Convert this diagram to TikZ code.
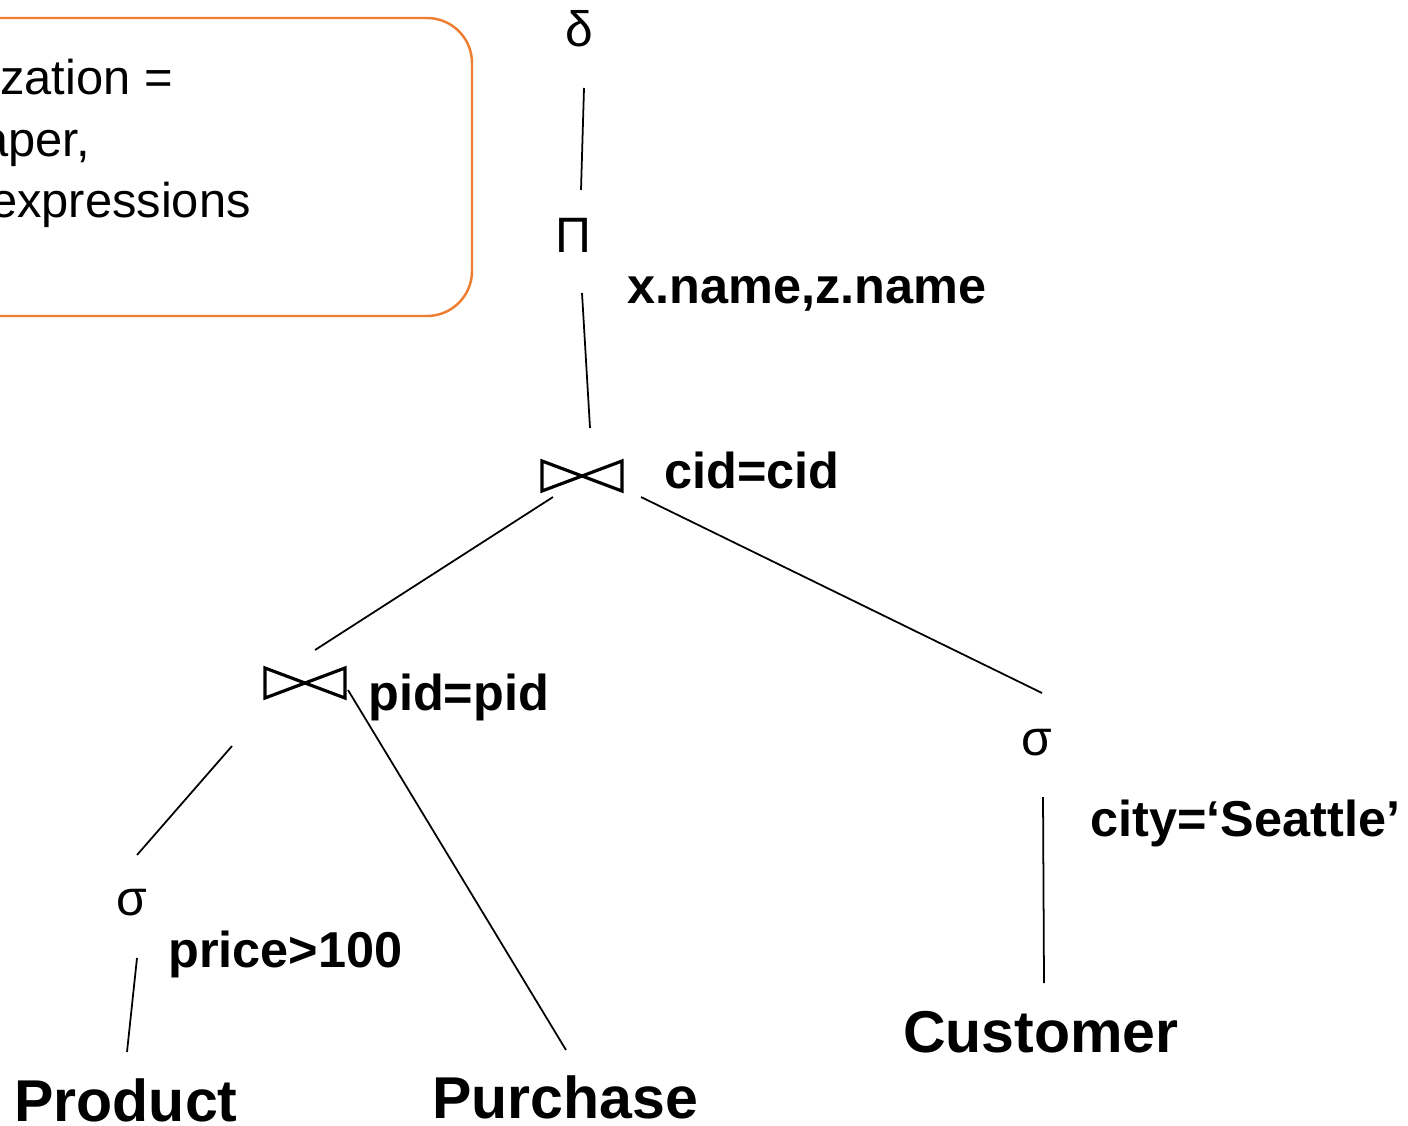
\documentclass[tikz,border=0pt]{standalone}
\usepackage{fontspec}
\setmainfont{Liberation Sans}
\usepackage{xcolor}
\usetikzlibrary{positioning,calc}
\definecolor{noteorange}{HTML}{ED7D31}

\begin{document}
\begin{tikzpicture}[x=0.02cm, y=-0.02cm,
    op/.style={font=\fontsize{28.3}{34}\selectfont, inner sep=0pt, anchor=base},
    cond/.style={font=\fontsize{28.7}{34}\selectfont\bfseries, inner sep=0pt, anchor=base west},
    rel/.style={font=\fontsize{33.6}{40}\selectfont\bfseries, inner sep=0pt, anchor=base},
    note/.style={font=\fontsize{27.8}{33}\selectfont, inner sep=0pt, anchor=base east},
    joinbox/.style={minimum width=1.6cm, minimum height=0.6cm, inner sep=0pt, outer sep=0pt},
    bowtie/.style={line width=1.8pt, line join=miter},
    link/.style={line width=1pt}]
    \useasboundingbox (0,0) rectangle (1408,1125);

    % Note box, cut off at the left edge
    \begin{scope}
        \clip (0,0) rectangle (1408,1125);
        \draw[noteorange, line width=1.4pt, rounded corners=0.9cm] (-200,18) rectangle (472,316);
        \node[note] (note1) at (173,95) {zation =};
        \node[note] (note2) at (90,156) {aper,};
        \node[note] (note3) at (251,217) {expressions};
    \end{scope}

    % Operators
    \node[op] (delta) at (579,47) {δ};
    \node[op] (pi) at (573,252) {Π};
    \node[cond] (pilbl) at (627,303) {x.name,z.name};

    \node[joinbox] (tj) at (582,476) {};
    \draw[bowtie] (tj.north west) -- (tj.south east) -- (tj.north east) -- (tj.south west) -- cycle;
    \node[cond] (tjlbl) at (664,488) {cid=cid};

    \node[joinbox] (lj) at (305,683) {};
    \draw[bowtie] (lj.north west) -- (lj.south east) -- (lj.north east) -- (lj.south west) -- cycle;
    \node[cond] (ljlbl) at (368,710) {pid=pid};

    \node[op] (lsigma) at (132,915) {σ};
    \node[cond] (lsiglbl) at (168,967) {price>100};

    \node[op] (rsigma) at (1037,755) {σ};
    \node[cond] (rsiglbl) at (1090,836) {city=‘Seattle’};

    % Relations
    \node[rel] (product) at (126,1121) {Product};
    \node[rel] (purchase) at (565,1118) {Purchase};
    \node[rel] (customer) at (1041,1052) {Customer};

    % Tree edges
    \draw[link] ([shift={(5,41)}]delta.base) -- ([shift={(8,-62)}]pi.base);
    \draw[link] ([shift={(9,41)}]pi.base) -- ([shift={(8,-33)}]tj.north);
    \draw[link] ([shift={(11,6)}]tj.south west) -- ([shift={(10,-18)}]lj.north);
    \draw[link] ([shift={(19,6)}]tj.south east) -- ([shift={(5,-62)}]rsigma.base);
    \draw[link] ([shift={(-33,48)}]lj.south west) -- ([shift={(5,-60)}]lsigma.base);
    \draw[link] ([shift={(3,7)}]lj.east) -- ([shift={(1,-68)}]purchase.base);
    \draw[link] ([shift={(5,43)}]lsigma.base) -- ([shift={(1,-69)}]product.base);
    \draw[link] ([shift={(6,42)}]rsigma.base) -- ([shift={(3,-69)}]customer.base);
\end{tikzpicture}
\end{document}
